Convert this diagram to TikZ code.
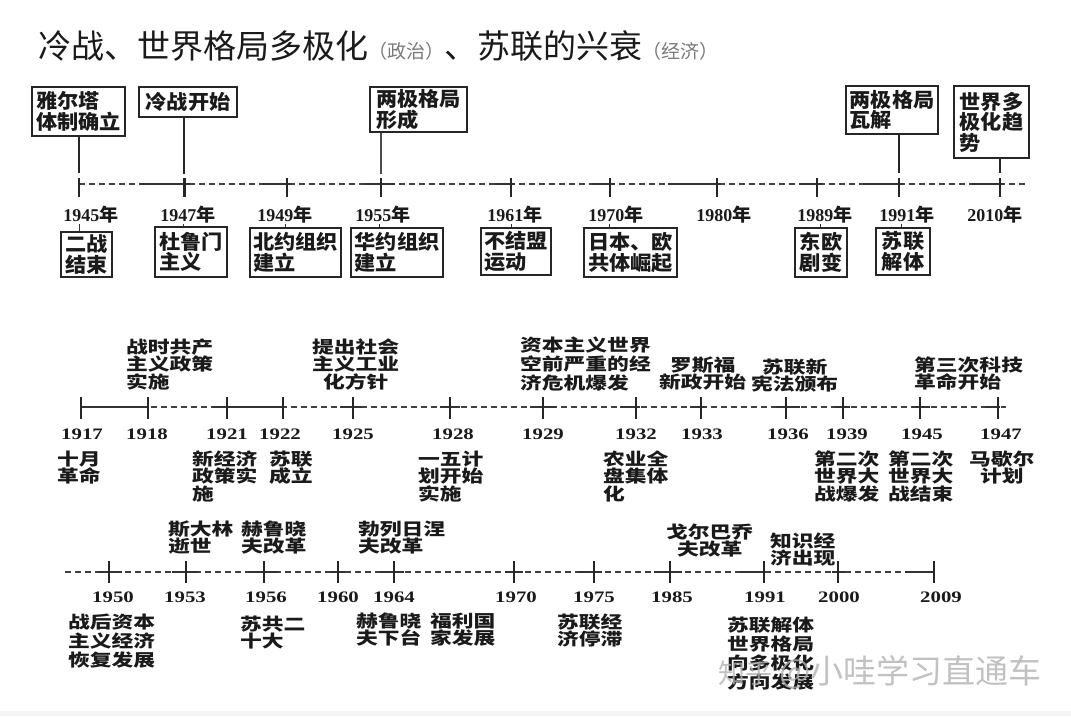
\documentclass[tikz,border=0pt]{standalone}
\usepackage{fontspec}
\setmainfont{Liberation Serif}
\newfontfamily\cjkT{Noto Sans CJK SC}
\newfontfamily\cjkB[FakeStretch=1.06]{Noto Sans CJK SC}
\newfontfamily\cjkL[FakeStretch=1.28]{Noto Sans CJK SC}
\newfontfamily\numL[FakeStretch=1.3]{Liberation Serif}
\definecolor{ink}{HTML}{1A1A1A}
\definecolor{soft}{HTML}{7A7A7A}
\newcommand\yrA[1]{{\bfseries #1}{\cjkB\bfseries 年}}
\tikzset{
  tl/.style={line width=1.3pt, draw=black!80},
  dsh/.style={line width=1.2pt, draw=black!75, dash pattern=on 6pt off 4pt},
  tk/.style={line width=1.5pt, draw=black!85},
  cn/.style={line width=1.2pt, draw=black!85},
  bx/.style={draw=black!85, line width=1.1pt, inner sep=0pt, align=left, text=ink,
    font=\cjkB\bfseries\fontsize{20}{20.5}\selectfont},
  ytop/.style={inner sep=0pt, text=ink, font=\fontsize{18}{18}\selectfont},
  ymid/.style={inner sep=0pt, text=ink, font=\numL\bfseries\fontsize{16}{16}\selectfont},
  lab/.style={inner sep=0pt, align=left, anchor=north west, text=ink,
    font=\cjkL\bfseries\fontsize{17}{17.5}\selectfont},
  labw/.style={lab, font=\cjkL\bfseries\fontsize{17}{19}\selectfont},
  labc/.style={lab, align=center},
}
\begin{document}
\begin{tikzpicture}[x=1pt,y=-1pt]
\useasboundingbox (0,0) rectangle (1071,716);
\fill[white] (0,0) rectangle (1071,716);
\fill[gray!8] (0,711) rectangle (1071,716);

% title
\node[anchor=base west, inner sep=0pt, text=ink, font=\cjkT\fontsize{33}{33}\selectfont] (title) at (38,58)
  {冷战、世界格局多极化{\color{soft}\fontsize{19}{19}\selectfont（政治）}、苏联的兴衰{\color{soft}\fontsize{19}{19}\selectfont（经济）}};

% ===== timeline 1 =====
\draw[dsh] (79,184) -- (1027,184);
\foreach \a/\b in {140/190,262/292,365/395,495/515,592/615,668/720,799/822,863/903,971/1003}
  \draw[tl] (\a,184) -- (\b,184);
\foreach \x in {79,287,511,610,717,817,899,1000}
  \draw[tk] (\x,178) -- (\x,197);
\draw[tk, line width=3pt] (184,178) -- (184,197);
\draw[tk, line width=2.2pt] (381,178) -- (381,197);

\coordinate (e45) at (79,173);
\coordinate (e47) at (184,174);
\coordinate (e55) at (381,174);
\coordinate (e91) at (899,173);
\coordinate (e10) at (1000,173);

\node[bx, minimum width=93, minimum height=49] (bYalta) at (78.5,111.5) {雅尔塔\\体制确立};
\node[bx, minimum width=98, minimum height=30] (bCold) at (188,102) {冷战开始};
\node[bx, minimum width=97, minimum height=45] (bBi) at (418.5,109.5) {两极格局\\形成};
\node[bx, minimum width=92, minimum height=48] (bBiEnd) at (892,110) {两极格局\\瓦解};
\node[bx, minimum width=75, minimum height=72] (bMulti) at (991.5,122) {世界多\\极化趋\\势};

\draw[cn] (e45 |- bYalta.south) -- (e45);
\draw[cn, line width=2.6pt] (e47 |- bCold.south) -- (e47);
\draw[cn, line width=2.2pt, draw=black!70] (e55 |- bBi.south) -- (e55);
\draw[cn] (e91 |- bBiEnd.south) -- (e91);
\draw[cn] (e10 |- bMulti.south) -- (e10);

\node[ytop] (y45) at (91,215) {\yrA{1945}};
\node[ytop] (y47) at (188,215) {\yrA{1947}};
\node[ytop] (y49) at (285,215) {\yrA{1949}};
\node[ytop] (y55) at (383,215) {\yrA{1955}};
\node[ytop] (y61) at (515,215) {\yrA{1961}};
\node[ytop] (y70) at (616,215) {\yrA{1970}};
\node[ytop] (y80) at (724,215) {\yrA{1980}};
\node[ytop] (y89) at (825,215) {\yrA{1989}};
\node[ytop] (y91) at (907,215) {\yrA{1991}};
\node[ytop] (y10) at (995,215) {\yrA{2010}};

\node[bx, minimum width=51, minimum height=45] (d45) at (86.5,254.5) {二战\\结束};
\node[bx, minimum width=72, minimum height=50] (d47) at (191,252) {杜鲁门\\主义};
\node[bx, minimum width=91, minimum height=49] (d49) at (295.5,252.5) {北约组织\\建立};
\node[bx, minimum width=92, minimum height=49] (d55) at (397,252.5) {华约组织\\建立};
\node[bx, minimum width=70, minimum height=47] (d61) at (516,251.5) {不结盟\\运动};
\node[bx, minimum width=93, minimum height=49] (d70) at (630.5,252.5) {日本、欧\\共体崛起};
\node[bx, minimum width=52, minimum height=49] (d89) at (821,252.5) {东欧\\剧变};
\node[bx, minimum width=54, minimum height=47] (d91) at (903,251.5) {苏联\\解体};

\foreach \n/\x in {45/79,47/183,49/285,55/379,61/511,70/609,89/820,91/901}
  \draw[line width=0.9pt, black!80] (y\n.south -| \x,0) -- (d\n.north -| \x,0);

% ===== timeline 2 =====
\draw[dsh] (81,407) -- (1006,407);
\foreach \a/\b in {81/148,213/283,340/362,440/460,530/556,620/640,690/705,776/800,835/850,912/930,985/1000}
  \draw[tl] (\a,407) -- (\b,407);
\foreach \x in {81,148,227,283,353,450,543,636,701,843,920,998}
  \draw[tk] (\x,397) -- (\x,419);
\draw[tk, line width=2.4pt] (786,397) -- (786,419);

\node[ymid] (m17) at (82,434.5) {1917};
\node[ymid] (m18) at (147,434.5) {1918};
\node[ymid] (m21) at (227,434.5) {1921};
\node[ymid] (m22) at (280,434.5) {1922};
\node[ymid] (m25) at (353,434.5) {1925};
\node[ymid] (m28) at (453,434.5) {1928};
\node[ymid] (m29) at (543,434.5) {1929};
\node[ymid] (m32) at (636,434.5) {1932};
\node[ymid] (m33) at (702,434.5) {1933};
\node[ymid] (m36) at (788,434.5) {1936};
\node[ymid] (m39) at (847,434.5) {1939};
\node[ymid] (m45) at (922,434.5) {1945};
\node[ymid] (m47) at (1001,434.5) {1947};

\node[lab] (u18) at (126,338.5) {战时共产\\主义政策\\实施};
\node[labc] (u25) at (312,338.5) {提出社会\\主义工业\\化方针};
\node[labw] (u29) at (520,336.5) {资本主义世界\\空前严重的经\\济危机爆发};
\node[labc] (u33) at (659,356.5) {罗斯福\\新政开始};
\node[labc] (u36) at (751,358.5) {苏联新\\宪法颁布};
\node[lab] (u45) at (914,356.5) {第三次科技\\革命开始};

\node[lab] (l17) at (57,450.5) {十月\\革命};
\node[lab] (l21) at (192,450.5) {新经济\\政策实\\施};
\node[lab] (l22) at (269,450.5) {苏联\\成立};
\node[lab] (l28) at (418,450.5) {一五计\\划开始\\实施};
\node[lab] (l32) at (603,450.5) {农业全\\盘集体\\化};
\node[lab] (l39) at (814,450.5) {第二次\\世界大\\战爆发};
\node[lab] (l45) at (888,450.5) {第二次\\世界大\\战结束};
\node[labc] (l47) at (969,450.5) {马歇尔\\计划};

% ===== timeline 3 =====
\draw[dsh] (65,572) -- (934,572);
\foreach \a/\b in {98/122,172/198,248/278,330/345,380/404,505/523,578/602,654/682,740/764,832/845,905/934}
  \draw[tl] (\a,572) -- (\b,572);
\foreach \x in {109,186,264,338,394,514,594,670,764,838,934}
  \draw[tk] (\x,561) -- (\x,583);

\node[ymid] (n50) at (113,597.5) {1950};
\node[ymid] (n53) at (185,597.5) {1953};
\node[ymid] (n56) at (266,597.5) {1956};
\node[ymid] (n60) at (338,597.5) {1960};
\node[ymid] (n64) at (394,597.5) {1964};
\node[ymid] (n70) at (516,597.5) {1970};
\node[ymid] (n75) at (594,597.5) {1975};
\node[ymid] (n85) at (672,597.5) {1985};
\node[ymid] (n91) at (765,597.5) {1991};
\node[ymid] (n00) at (839,597.5) {2000};
\node[ymid] (n09) at (941,597.5) {2009};

\node[lab] (v53) at (168,520.5) {斯大林\\逝世};
\node[lab] (v56) at (241,520.5) {赫鲁晓\\夫改革};
\node[lab] (v64) at (358,520.5) {勃列日涅\\夫改革};
\node[labc] (v85) at (666,523.5) {戈尔巴乔\\夫改革};
\node[lab] (v91) at (770,532.5) {知识经\\济出现};

\node[labw] (w50) at (68,613.5) {战后资本\\主义经济\\恢复发展};
\node[lab] (w56) at (240,615.5) {苏共二\\十大};
\node[lab] (w64) at (356,612.5) {赫鲁晓\\夫下台};
\node[lab] (w70) at (430,612.5) {福利国\\家发展};
\node[lab] (w75) at (557,613.5) {苏联经\\济停滞};
\node[labw] (w91) at (727,616.5) {苏联解体\\世界格局\\向多极化\\方向发展};

% watermark
\node[anchor=west, inner sep=0pt, text=gray!60, opacity=0.8, font=\cjkT\fontsize{33}{33}\selectfont] (wm) at (718,672)
  {{\fontsize{27}{27}\selectfont 知乎} @小哇学习直通车};
\end{tikzpicture}
\end{document}
